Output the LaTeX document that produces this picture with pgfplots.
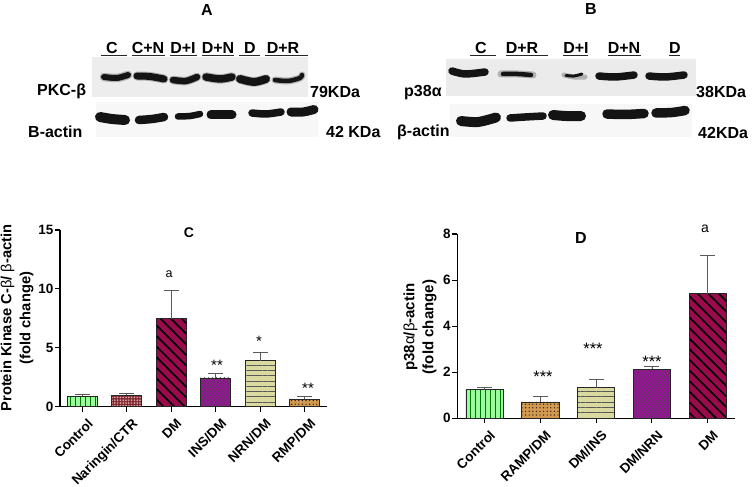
\documentclass[border=0pt]{standalone}
\usepackage{fontspec}
\setmainfont{Liberation Sans}
\usepackage{pgfplots}
\pgfplotsset{compat=1.18}
\usetikzlibrary{patterns.meta}
\definecolor{cGreen}{HTML}{9CFB9C}
\definecolor{cPink}{HTML}{7E2C34}
\definecolor{cPinkDot}{HTML}{EDB4B4}
\definecolor{cCrim}{HTML}{9A0A4C}
\definecolor{cPurp}{HTML}{9A109A}
\definecolor{cKhaki}{HTML}{D9D9A0}
\definecolor{cOrange}{HTML}{D29A50}
\pgfplotsset{
  barax/.style={
    scale only axis, clip=false,
    axis x line*=bottom, axis y line*=left,
    axis line style={black,line width=1.2pt,-},
    tick style={black,line width=1.1pt},
    major tick length=5pt, tick align=outside,
    ymin=0,
    /pgf/number format/assume math mode=true,
    yticklabel style={font=\fontsize{13.5}{13.5}\selectfont\bfseries,inner sep=1.5pt},
    xticklabel style={font=\fontsize{13.5}{14}\selectfont\bfseries,rotate=45,anchor=north east,inner sep=1pt,xshift=0pt,yshift=-6.5pt},
  },
  onebar/.style={
    ybar, bar shift=0pt, draw=black!85, line width=0.8pt,
    /pgfplots/error bars/y dir=plus, /pgfplots/error bars/y explicit,
    /pgfplots/error bars/error bar style={line width=0.8pt,color=black!65},
    /pgfplots/error bars/error mark options={rotate=90,mark size=7.5pt,line width=0.8pt,color=black!65},
  },
  band/.style={no marks,line width=#1,color=black!92,line cap=round,line join=round,smooth},
  halo/.style={no marks,line width=#1,color=black!30,line cap=round,line join=round,smooth},
  ul/.style={no marks,line width=1pt,color=black!85},
}
\begin{document}
\begin{tikzpicture}[x=1pt,y=1pt]
\useasboundingbox (0,0) rectangle (752,487);

% ---------- Panel C
\begin{axis}[barax, at={(60pt,80.3pt)}, anchor=south west,
  width=267pt, height=176.7pt, bar width=30pt,
  xmin=-0.5, xmax=5.5, ymax=15, ytick={0,5,10,15}, xtick={0,1,2,3,4,5},
  xticklabels={Control,Naringin/CTR,DM,INS/DM,NRN/DM,RMP/DM}]
\addplot[onebar, fill=cGreen, postaction={pattern={Lines[angle=90,distance=5pt,line width=0.8pt]},pattern color=black!55!green}]
  coordinates {(0,0.88) +- (0,0.17)};
\addplot[onebar, fill=cPink, postaction={pattern={Dots[distance=2.8pt,radius=0.85pt]},pattern color=cPinkDot}]
  coordinates {(1,0.96) +- (0,0.14)};
\addplot[onebar, fill=cCrim, postaction={pattern={Lines[angle=-45,distance=7.5pt,line width=1.7pt]},pattern color=black}]
  coordinates {(2,7.48) +- (0,2.41)};
\addplot[onebar, fill=cPurp, postaction={pattern={Lines[angle=45,distance=2.8pt,line width=0.6pt]},pattern color=black!70}]
  coordinates {(3,2.44) +- (0,0.36)};
\addplot[onebar, fill=cKhaki, postaction={pattern={Lines[angle=0,distance=5.3pt,line width=0.9pt]},pattern color=black!65}]
  coordinates {(4,3.90) +- (0,0.69)};
\addplot[onebar, fill=cOrange, postaction={pattern={Dots[distance=3.6pt,radius=0.7pt]},pattern color=black!80!brown}]
  coordinates {(5,0.62) +- (0,0.26)};
\end{axis}

% ---------- Panel D
\begin{axis}[barax, at={(457.3pt,68.7pt)}, anchor=south west,
  width=277.7pt, height=184.3pt, bar width=37.3pt,
  xmin=-0.49, xmax=4.49, ymax=8, ytick={0,2,4,6,8}, xtick={0,1,2,3,4},
  xticklabels={Control,RAMP/DM,DM/INS,DM/NRN,DM}]
\addplot[onebar, fill=cGreen, postaction={pattern={Lines[angle=90,distance=5pt,line width=0.8pt]},pattern color=black!55!green}]
  coordinates {(0,1.24) +- (0,0.09)};
\addplot[onebar, fill=cOrange, postaction={pattern={Dots[distance=3.6pt,radius=0.7pt]},pattern color=black!80!brown}]
  coordinates {(1,0.71) +- (0,0.26)};
\addplot[onebar, fill=cKhaki, postaction={pattern={Lines[angle=0,distance=5.3pt,line width=0.9pt]},pattern color=black!65}]
  coordinates {(2,1.33) +- (0,0.36)};
\addplot[onebar, fill=cPurp, postaction={pattern={Lines[angle=45,distance=2.8pt,line width=0.6pt]},pattern color=black!70}]
  coordinates {(3,2.13) +- (0,0.11)};
\addplot[onebar, fill=cCrim, postaction={pattern={Lines[angle=-45,distance=7.5pt,line width=1.7pt]},pattern color=black}]
  coordinates {(4,5.41) +- (0,1.64)};
\end{axis}

% ---------- Blots and annotations, in reference pixel coordinates
\begin{axis}[hide axis, scale only axis, at={(0pt,0pt)}, anchor=south west,
  width=752pt, height=487pt, xmin=0, xmax=752, ymin=0, ymax=487, y dir=reverse, clip=false]
% membranes
\addplot[draw=none,fill=black!7] coordinates {(92,57) (308,57) (308,97) (92,97)};
\addplot[draw=none,fill=black!3] coordinates {(96,102) (318,102) (318,137) (96,137)};
\addplot[draw=none,fill=black!8] coordinates {(446,59) (696,59) (696,96) (446,96)};
\addplot[draw=none,fill=black!3] coordinates {(450,104) (692,104) (692,137) (450,137)};
% Panel A, upper row
\addplot[halo=8.5pt] coordinates {(104,77) (117,78) (128,75)};
\addplot[band=6pt] coordinates {(104,77) (117,78) (128,75)};
\addplot[halo=9pt] coordinates {(137,76) (150,76.5) (164,79)};
\addplot[band=7pt] coordinates {(137,76) (150,76.5) (164,79)};
\addplot[halo=8.5pt] coordinates {(173,80) (186,81) (197,77)};
\addplot[band=6.5pt] coordinates {(173,80) (186,81) (197,77)};
\addplot[halo=9.5pt] coordinates {(206,77) (220,79) (232,77)};
\addplot[band=7.5pt] coordinates {(206,77) (220,79) (232,77)};
\addplot[halo=9.5pt] coordinates {(240,79) (254,82) (266,79)};
\addplot[band=8pt] coordinates {(240,79) (254,82) (266,79)};
\addplot[halo=7pt] coordinates {(275,80) (288,81) (300,78) (302,75)};
\addplot[band=4.5pt] coordinates {(275,80) (288,81) (300,78) (302,75)};
% Panel A, lower row
\addplot[band=10pt] coordinates {(100,117) (112,119) (125,120)};
\addplot[band=8.5pt] coordinates {(139,120) (152,119) (164,117)};
\addplot[band=6.5pt] coordinates {(178,116.5) (190,116) (200,114)};
\addplot[band=9pt] coordinates {(211,115) (222,115) (232,115)};
\addplot[band=7.5pt] coordinates {(252,113) (266,114) (281,112)};
\addplot[band=9pt] coordinates {(291,112) (303,112) (314,109.5)};
% Panel B, upper row
\addplot[band=7.5pt] coordinates {(452,71) (465,74) (485,72)};
\addplot[halo=7pt] coordinates {(501,74) (518,74) (533,75)};
\addplot[band=4.5pt] coordinates {(503,74) (518,74) (531,75)};
\addplot[halo=5pt] coordinates {(564,75) (574,77) (585,77)};
\addplot[band=3pt] coordinates {(566,75.5) (574,76) (582,74)};
\addplot[band=7.5pt] coordinates {(599,76) (615,77) (634,75)};
\addplot[band=7.5pt] coordinates {(649,76) (665,77) (684,75)};
% Panel B, lower row
\addplot[band=10pt] coordinates {(461,121) (478,122) (496,117.5)};
\addplot[band=7.5pt] coordinates {(510,118) (525,117) (543,116)};
\addplot[band=10pt] coordinates {(553,115) (566,116) (581,116)};
\addplot[band=9.5pt] coordinates {(607,114) (625,114.5) (644,113.5)};
\addplot[band=9.5pt] coordinates {(656,113) (672,112.5) (685,110.5)};
% header underlines
\addplot[ul] coordinates {(101,55.7) (127,55.7)};
\addplot[ul] coordinates {(132,55.7) (165,55.7)};
\addplot[ul] coordinates {(170,55.7) (197,55.7)};
\addplot[ul] coordinates {(202,55.7) (234,55.7)};
\addplot[ul] coordinates {(239,55.7) (260,55.7)};
\addplot[ul] coordinates {(265,55.7) (308,55.7)};
\addplot[ul] coordinates {(470,55.7) (496,55.7)};
\addplot[ul] coordinates {(506,55.7) (548,55.7)};
\addplot[ul] coordinates {(563,55.7) (588,55.7)};
\addplot[ul] coordinates {(608,55.7) (641,55.7)};
\addplot[ul] coordinates {(669,55.7) (680,55.7)};
% titles and lane labels
\tikzset{tb/.style={inner sep=0pt,font=\fontsize{16}{16}\selectfont\bfseries},
  lb/.style={tb,anchor=west},
  sm/.style={inner sep=0pt,font=\fontsize{14}{14}\selectfont\bfseries},
  st/.style={inner sep=0pt,font=\fontsize{14}{14}\selectfont},
  sr/.style={inner sep=0pt,font=\fontsize{15}{15}\selectfont},
  sq/.style={inner sep=0pt,font=\fontsize{16.5}{16}\selectfont}}
\node[tb] at (axis cs:207,9.5) {A};
\node[tb] at (axis cs:591,9) {B};
\node[tb] at (axis cs:112,47.5) {C};
\node[tb] at (axis cs:148,47.5) {C+N};
\node[tb] at (axis cs:183,47.5) {D+I};
\node[tb] at (axis cs:218,47.5) {D+N};
\node[tb] at (axis cs:250,47.5) {D};
\node[tb] at (axis cs:283,47.5) {D+R};
\node[tb] at (axis cs:481,47.5) {C};
\node[tb] at (axis cs:522,47.5) {D+R};
\node[tb] at (axis cs:576,47.5) {D+I};
\node[tb] at (axis cs:624,47.5) {D+N};
\node[tb] at (axis cs:675,47.5) {D};
\node[lb] at (axis cs:37,91) {PKC-β};
\node[lb] at (axis cs:310,91.5) {79KDa};
\node[lb] at (axis cs:28,132) {B-actin};
\node[lb] at (axis cs:326,132) {42 KDa};
\node[lb] at (axis cs:404,92.5) {p38α};
\node[lb] at (axis cs:696,92) {38KDa};
\node[lb] at (axis cs:397,132.5) {β-actin};
\node[lb] at (axis cs:698,132.5) {42KDa};
% chart annotations
\node[sm] at (axis cs:189,233) {C};
\node[tb] at (axis cs:581,238) {D};
\node[font=\fontsize{12.5}{13}\selectfont,inner sep=0pt] at (axis cs:169,274) {a};
\node[st] at (axis cs:705,229) {a};
\node[sr] at (axis cs:217,365) {**};
\node[sr] at (axis cs:259,341) {*};
\node[sr] at (axis cs:308,388) {**};
\node[sq] at (axis cs:543,377) {***};
\node[sq] at (axis cs:593,349) {***};
\node[sq] at (axis cs:652,362) {***};
% y titles
\node[inner sep=0pt,rotate=90,align=center,font=\fontsize{14.7}{19}\selectfont\bfseries] at (axis cs:17,318)
  {Protein Kinase C-{\mdseries β}/ {\mdseries β}-actin\\(fold change)};
\node[inner sep=0pt,rotate=90,align=center,font=\fontsize{15}{19}\selectfont\bfseries] at (axis cs:420,327)
  {p38{\mdseries α}/{\mdseries β}-actin\\(fold change)};
\end{axis}
\end{tikzpicture}
\end{document}
